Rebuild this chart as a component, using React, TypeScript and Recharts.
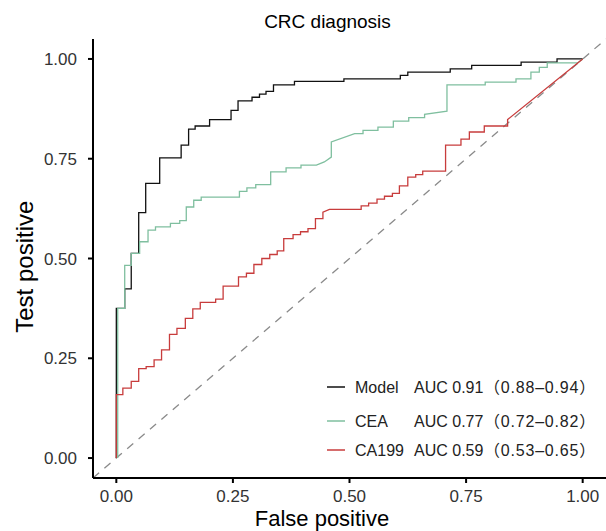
import React from 'react';
import { LineChart, Line, XAxis, YAxis, ReferenceLine } from 'recharts';

// ROC curves: false positive rate / true positive rate
const modelFpr = [0, 0, 0.018, 0.018, 0.032, 0.032, 0.048, 0.048, 0.063, 0.063, 0.093, 0.093, 0.139, 0.139, 0.155, 0.155, 0.169, 0.169, 0.2, 0.2, 0.246, 0.246, 0.261, 0.261, 0.291, 0.291, 0.307, 0.307, 0.321, 0.321, 0.337, 0.337, 0.382, 0.382, 0.488, 0.488, 0.609, 0.609, 0.625, 0.625, 0.716, 0.716, 0.762, 0.762, 0.868, 0.868, 0.945, 0.945, 1];
const modelTpr = [0, 0.375, 0.375, 0.424, 0.424, 0.513, 0.513, 0.615, 0.615, 0.688, 0.688, 0.752, 0.752, 0.784, 0.784, 0.824, 0.824, 0.832, 0.832, 0.848, 0.848, 0.871, 0.871, 0.895, 0.895, 0.904, 0.904, 0.912, 0.912, 0.919, 0.919, 0.935, 0.935, 0.944, 0.944, 0.95, 0.95, 0.959, 0.959, 0.967, 0.967, 0.975, 0.975, 0.984, 0.984, 0.992, 0.992, 1, 1];

const ceaFpr = [0.003, 0.003, 0.018, 0.018, 0.032, 0.032, 0.05, 0.05, 0.068, 0.068, 0.084, 0.084, 0.116, 0.116, 0.136, 0.136, 0.15, 0.15, 0.166, 0.166, 0.182, 0.182, 0.264, 0.264, 0.28, 0.28, 0.299, 0.299, 0.331, 0.331, 0.364, 0.364, 0.396, 0.396, 0.429, 0.446, 0.461, 0.461, 0.511, 0.529, 0.529, 0.561, 0.561, 0.594, 0.594, 0.627, 0.627, 0.661, 0.661, 0.709, 0.709, 0.791, 0.791, 0.857, 0.857, 0.889, 0.889, 0.907, 0.907, 0.924, 0.924, 0.989, 1];
const ceaTpr = [0, 0.375, 0.375, 0.483, 0.483, 0.513, 0.513, 0.542, 0.542, 0.571, 0.571, 0.579, 0.579, 0.588, 0.588, 0.595, 0.595, 0.629, 0.629, 0.646, 0.646, 0.654, 0.654, 0.668, 0.668, 0.677, 0.677, 0.685, 0.685, 0.717, 0.717, 0.727, 0.727, 0.734, 0.734, 0.742, 0.754, 0.792, 0.813, 0.813, 0.821, 0.821, 0.829, 0.829, 0.844, 0.844, 0.853, 0.853, 0.861, 0.869, 0.935, 0.935, 0.942, 0.942, 0.95, 0.95, 0.967, 0.967, 0.979, 0.979, 0.99, 0.99, 1];

const ca199Fpr = [0, 0, 0.014, 0.014, 0.032, 0.032, 0.048, 0.048, 0.064, 0.064, 0.081, 0.081, 0.097, 0.097, 0.114, 0.114, 0.13, 0.13, 0.148, 0.148, 0.164, 0.164, 0.18, 0.18, 0.213, 0.213, 0.229, 0.229, 0.262, 0.262, 0.279, 0.279, 0.295, 0.295, 0.312, 0.312, 0.329, 0.329, 0.345, 0.345, 0.359, 0.359, 0.379, 0.379, 0.395, 0.395, 0.411, 0.411, 0.427, 0.427, 0.443, 0.443, 0.457, 0.525, 0.525, 0.541, 0.541, 0.559, 0.559, 0.575, 0.575, 0.592, 0.592, 0.607, 0.607, 0.625, 0.625, 0.642, 0.642, 0.657, 0.657, 0.706, 0.706, 0.739, 0.739, 0.757, 0.757, 0.789, 0.789, 0.839, 0.839, 1];
const ca199Tpr = [0, 0.159, 0.159, 0.175, 0.175, 0.192, 0.192, 0.224, 0.224, 0.229, 0.229, 0.246, 0.246, 0.271, 0.271, 0.31, 0.31, 0.325, 0.325, 0.35, 0.35, 0.374, 0.374, 0.39, 0.39, 0.398, 0.398, 0.431, 0.431, 0.454, 0.454, 0.463, 0.463, 0.485, 0.485, 0.5, 0.5, 0.51, 0.51, 0.519, 0.519, 0.55, 0.55, 0.56, 0.56, 0.567, 0.567, 0.575, 0.575, 0.6, 0.6, 0.616, 0.623, 0.623, 0.632, 0.632, 0.639, 0.639, 0.649, 0.649, 0.656, 0.656, 0.663, 0.663, 0.682, 0.682, 0.704, 0.704, 0.71, 0.71, 0.719, 0.719, 0.784, 0.784, 0.799, 0.799, 0.817, 0.817, 0.832, 0.832, 0.848, 1];

const seriesNames = ['Model', 'CEA', 'CA199'];
const aucLabels = ['AUC 0.91', 'AUC 0.77', 'AUC 0.59'];
const ciLabels = ['（0.88–0.94）', '（0.72–0.82）', '（0.53–0.65）'];
const axisTicks = [0, 0.25, 0.5, 0.75, 1];

const colors = ['#111111', '#7fbf9f', '#c83c3c'];
const font = '"Liberation Sans", Arial, "Noto Sans CJK SC", sans-serif';

const zip = (fpr: number[], tpr: number[]) => fpr.map((x, i) => ({ fpr: x, tpr: tpr[i] }));
const curves = [zip(modelFpr, modelTpr), zip(ceaFpr, ceaTpr), zip(ca199Fpr, ca199Tpr)];

const legendRows = [387, 421, 450];

export default function App() {
  return (
    <div style={{ position: 'absolute', left: 0, top: 0, width: 606, height: 531, background: '#fff', fontFamily: font }}>
      <LineChart width={606} height={531} margin={{ top: 39, right: 0, bottom: 0, left: 0 }}>
        <XAxis
          type="number"
          dataKey="fpr"
          domain={[-0.05, 1.05]}
          ticks={axisTicks}
          tickFormatter={(v: number) => v.toFixed(2)}
          height={53}
          axisLine={{ stroke: '#000', strokeWidth: 2 }}
          tickLine={{ stroke: '#000', strokeWidth: 2 }}
          tickSize={5}
          tickMargin={7}
          tick={{ fill: '#333', fontSize: 17, fontFamily: font }}
          allowDuplicatedCategory={false}
        />
        <YAxis
          type="number"
          dataKey="tpr"
          domain={[-0.05, 1.05]}
          ticks={axisTicks}
          tickFormatter={(v: number) => v.toFixed(2)}
          width={93}
          axisLine={{ stroke: '#000', strokeWidth: 2 }}
          tickLine={{ stroke: '#000', strokeWidth: 2 }}
          tickSize={5}
          tickMargin={11}
          tick={{ fill: '#333', fontSize: 17, fontFamily: font }}
        />
        <ReferenceLine
          segment={[{ x: -0.05, y: -0.05 }, { x: 1.05, y: 1.05 }]}
          stroke="#8a8a8a"
          strokeWidth={1.3}
          strokeDasharray="8 7"
        />
        {curves.map((d, i) => (
          <Line
            key={seriesNames[i]}
            data={d}
            dataKey="tpr"
            name={seriesNames[i]}
            type="linear"
            stroke={colors[i]}
            strokeWidth={1.3}
            dot={false}
            activeDot={false}
            isAnimationActive={false}
          />
        ))}
      </LineChart>
      <svg width={606} height={531} style={{ position: 'absolute', left: 0, top: 0, pointerEvents: 'none' }} fontFamily={font}>
        <text x={327.5} y={28.3} textAnchor="middle" fontSize={19} fill="#000">CRC diagnosis</text>
        <text x={322} y={525.7} textAnchor="middle" fontSize={22} fill="#000">False positive</text>
        <text transform="translate(33,266.7) rotate(-90)" textAnchor="middle" fontSize={24} fill="#000">Test positive</text>
        {seriesNames.map((name, i) => (
          <g key={name}>
            <line x1={327} x2={345} y1={legendRows[i]} y2={legendRows[i]} stroke={colors[i]} strokeWidth={1.5} />
            <text x={355} y={legendRows[i] + 5.7} fontSize={16} fill="#222">{name}</text>
            <text x={414} y={legendRows[i] + 5.7} fontSize={16} fill="#222">{aucLabels[i]}</text>
            <text x={484} y={legendRows[i] + 5.7} fontSize={16} letterSpacing={0.8} fill="#222">{ciLabels[i]}</text>
          </g>
        ))}
      </svg>
    </div>
  );
}
